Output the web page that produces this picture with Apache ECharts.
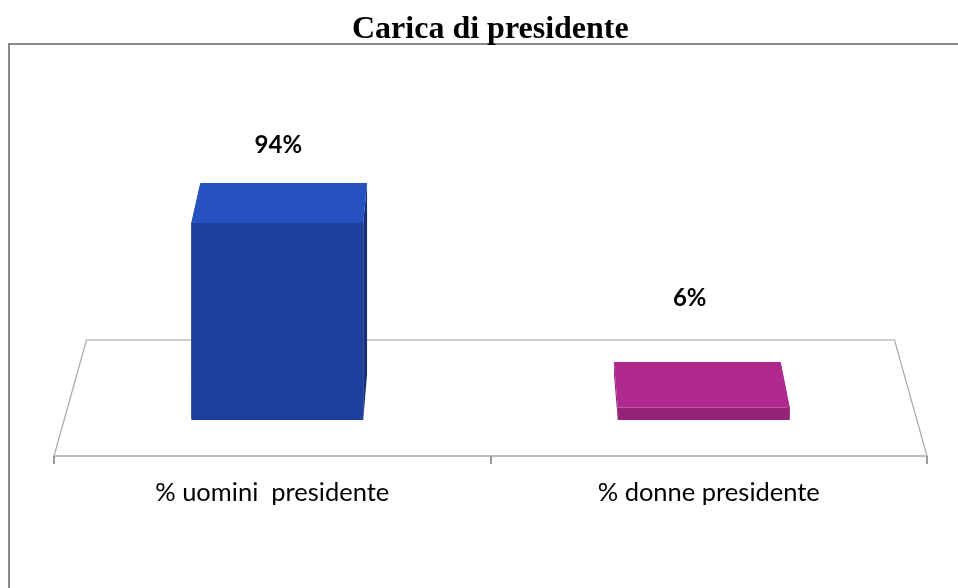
<!DOCTYPE html>
<html>
<head>
<meta charset="utf-8">
<script src="https://cdn.jsdelivr.net/npm/echarts@6/dist/echarts.min.js"></script>
<style>html,body{margin:0;padding:0;background:#fff}#c{width:958px;height:588px}</style>
</head>
<body>
<div id="c"></div>
<script>
// ---- data ----
const titleText = 'Carica di presidente';
const categories = ['% uomini  presidente', '% donne presidente'];
const values = [94, 6];
const valueLabels = ['94%', '6%'];

// ---- styles ----
const barStyles = [
  { front: '#1f3f9f', top: '#2651c1', side: '#162f7a' },
  { front: '#952478', top: '#b0298f', side: '#8a2270' }
];
const labelShift = [[1, -78], [-14, -109]];
const VY = -1100;          // vanishing point height (camera)
const S_FRONT = 0.9769;    // bar front plane scale
const S_BACK = 0.9474;     // bar back plane scale
const S_FLOOR = 0.9254;    // floor back edge scale

function proj(VX, x, y, s) { return [VX + s * (x - VX), VY + s * (y - VY)]; }

const chart = echarts.init(document.getElementById('c'), null, { renderer: 'canvas' });
chart.setOption({
  animation: false,
  title: {
    text: titleText, left: 347, top: 9,
    textStyle: { fontFamily: 'Liberation Serif', fontSize: 32, fontWeight: 'bold', color: '#000' }
  },
  graphic: [{
    type: 'rect', z: -1, silent: true,
    shape: { x: 9, y: 44, width: 1000, height: 600 },
    style: { fill: 'none', stroke: '#8a8a8a', lineWidth: 2 }
  }],
  grid: { left: 54, right: 31, top: 241.4, bottom: 132 },
  xAxis: {
    type: 'category', data: categories, z: 5,
    axisLine: { lineStyle: { color: '#bdbdbd', width: 2 } },
    axisTick: { show: true, length: 8, lineStyle: { color: '#9a9a9a', width: 2 } },
    axisLabel: { margin: 24, fontFamily: 'Lato', fontSize: 25.5, color: '#000' }
  },
  yAxis: { type: 'value', min: 0, max: 100, show: false, splitLine: { show: false } },
  series: [
    {
      type: 'custom', z: 1, silent: true,
      data: [[0, 0]],
      renderItem: function (params, api) {
        const cs = params.coordSys;
        const VX = cs.x + cs.width / 2;
        const yb = api.coord([0, 0])[1];
        const fl = [cs.x, yb], fr = [cs.x + cs.width, yb];
        const bl = proj(VX, fl[0], yb, S_FLOOR), br = proj(VX, fr[0], yb, S_FLOOR);
        return {
          type: 'group', children: [
            { type: 'polygon', shape: { points: [fl, fr, br, bl] }, style: { fill: '#fff' } },
            { type: 'polyline', shape: { points: [fl, bl, br, fr] }, style: { fill: null, stroke: '#a8a8a8', lineWidth: 1.2 } },
            { type: 'line', shape: { x1: bl[0], y1: bl[1], x2: br[0], y2: br[1] }, style: { stroke: '#d2d2d2', lineWidth: 1.5 } }
          ]
        };
      }
    },
    {
      type: 'custom', z: 3,
      data: values.map((v, i) => [i, v]),
      renderItem: function (params, api) {
        const i = api.value(0), v = api.value(1);
        const cs = params.coordSys;
        const VX = cs.x + cs.width / 2;
        const bw = api.size([1, 0])[0] * 0.403;
        const t = api.coord([i, v]);
        const b = api.coord([i, 0]);
        const xl = t[0] - bw / 2, xr = t[0] + bw / 2;
        const FL = proj(VX, xl, b[1], S_FRONT), FR = proj(VX, xr, b[1], S_FRONT);
        const FTL = proj(VX, xl, t[1], S_FRONT), FTR = proj(VX, xr, t[1], S_FRONT);
        const BL = proj(VX, xl, b[1], S_BACK), BR = proj(VX, xr, b[1], S_BACK);
        const BTL = proj(VX, xl, t[1], S_BACK), BTR = proj(VX, xr, t[1], S_BACK);
        const st = barStyles[i];
        const sh = labelShift[i];
        return {
          type: 'group', children: [
            { type: 'polygon', shape: { points: [FL, FTL, BTL, BL] }, style: { fill: st.side } },
            { type: 'polygon', shape: { points: [FR, FTR, BTR, BR] }, style: { fill: st.side } },
            { type: 'polygon', shape: { points: [FTL, FTR, BTR, BTL] }, style: { fill: st.top } },
            { type: 'polygon', shape: { points: [FL, FR, FTR, FTL] }, style: { fill: st.front } },
            {
              type: 'text',
              style: {
                x: (FTL[0] + FTR[0]) / 2 + sh[0], y: FTL[1] + sh[1],
                text: valueLabels[i], align: 'center', verticalAlign: 'middle',
                font: 'bold 24px Lato', fill: '#000'
              }
            }
          ]
        };
      }
    }
  ]
});
</script>
</body>
</html>
